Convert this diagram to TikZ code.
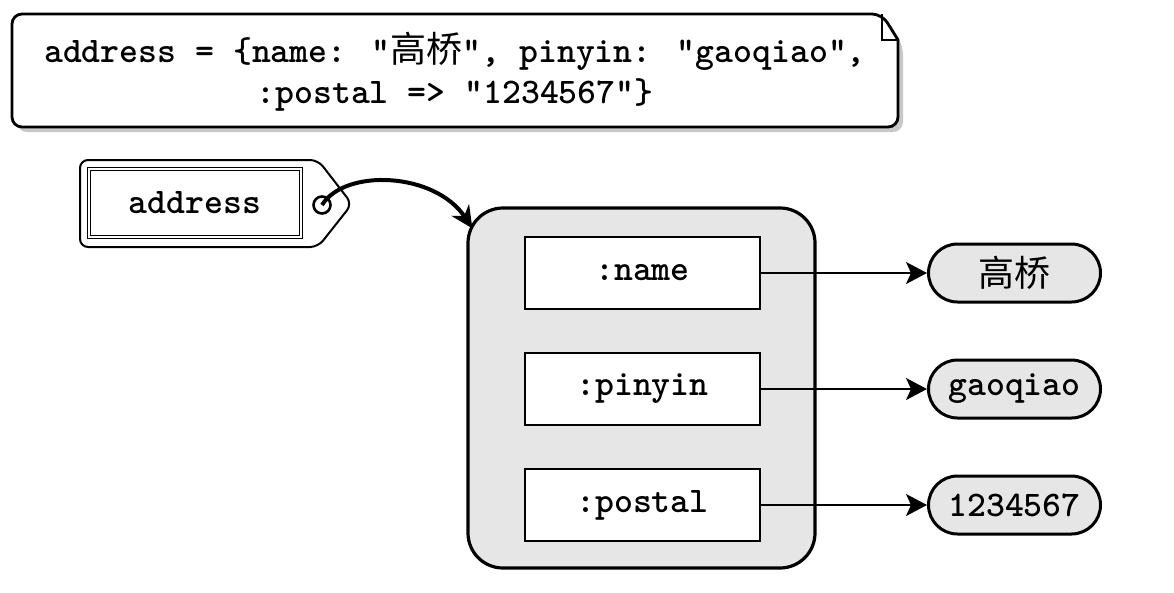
\documentclass[tikz,border=0pt]{standalone}
\usepackage{fontspec}
\newfontfamily\cjk{Noto Sans CJK SC}
\usetikzlibrary{shapes, arrows.meta, positioning, calc}
\definecolor{boxgray}{RGB}{230, 230, 230}
\definecolor{shadegray}{RGB}{200, 200, 200}

\tikzset{
  code/.style={font=\fontsize{36}{41}\selectfont\ttfamily\bfseries},
  keybox/.style={code, draw, fill=white, line width=2.6pt, minimum width=235, minimum height=72},
  valpill/.style={code, draw, fill=boxgray, line width=3pt, rounded corners=29, minimum width=172, minimum height=58},
  link/.style={line width=1.7pt, -{Stealth[length=21pt, width=22pt, inset=5pt]}}
}

\begin{document}
\begin{tikzpicture}[x=1pt, y=-1pt]
  \useasboundingbox (0,0) rectangle (1174,592);

  % note with the hash literal
  \fill[shadegray, rounded corners=10] (17,70) -- (17,19) -- (887,19) -- (903,45) -- (903,132) -- (17,132) -- cycle;
  \draw[line width=2.8pt, fill=white, rounded corners=10] (12,70) -- (12,14) -- (882,14) [sharp corners] -- (898,40) [rounded corners=10] -- (898,127) -- (12,127) -- cycle;
  \draw[line width=1.6pt] (882,14) |- (898,40);
  \node[code, align=center] (literal) at (455,72) {address = \{name: "{\cjk\mdseries 高桥}", pinyin: "gaoqiao",\\:postal => "1234567"\}};

  % variable tag
  \draw[line width=2pt, fill=white, rounded corners=8] (80,203) -- (80,160) -- (318,160) -- (352,204) -- (318,247) -- (80,247) -- cycle;
  \node[code, draw, double, double distance=2.5pt, line width=0.9pt, minimum width=212, minimum height=68] (tag) at (195,203) {address};
  \coordinate (hole) at (322,205);
  \draw[line width=2.6pt] (hole) circle (8.5);

  % hash object
  \node[draw, line width=3.2pt, fill=boxgray, rounded corners=35, minimum width=347, minimum height=360] (hash) at (641.5,388) {};
  \draw[line width=4pt, -{Stealth[length=22pt, width=21pt]}] (hole) .. controls (345,168) and (435,172) .. ($(hash.north west)+(6,22)$);

  \foreach \key/\val/\y/\nm in {:name/{\cjk\mdseries 高桥}/273/name, :pinyin/gaoqiao/389/pinyin, :postal/1234567/505/postal} {
    \node[keybox] (k\nm) at (642.5,\y) {\key};
    \node[valpill] (v\nm) at (1014.5,\y) {\val};
    \draw[link] (k\nm) -- (v\nm);
  }
\end{tikzpicture}
\end{document}
